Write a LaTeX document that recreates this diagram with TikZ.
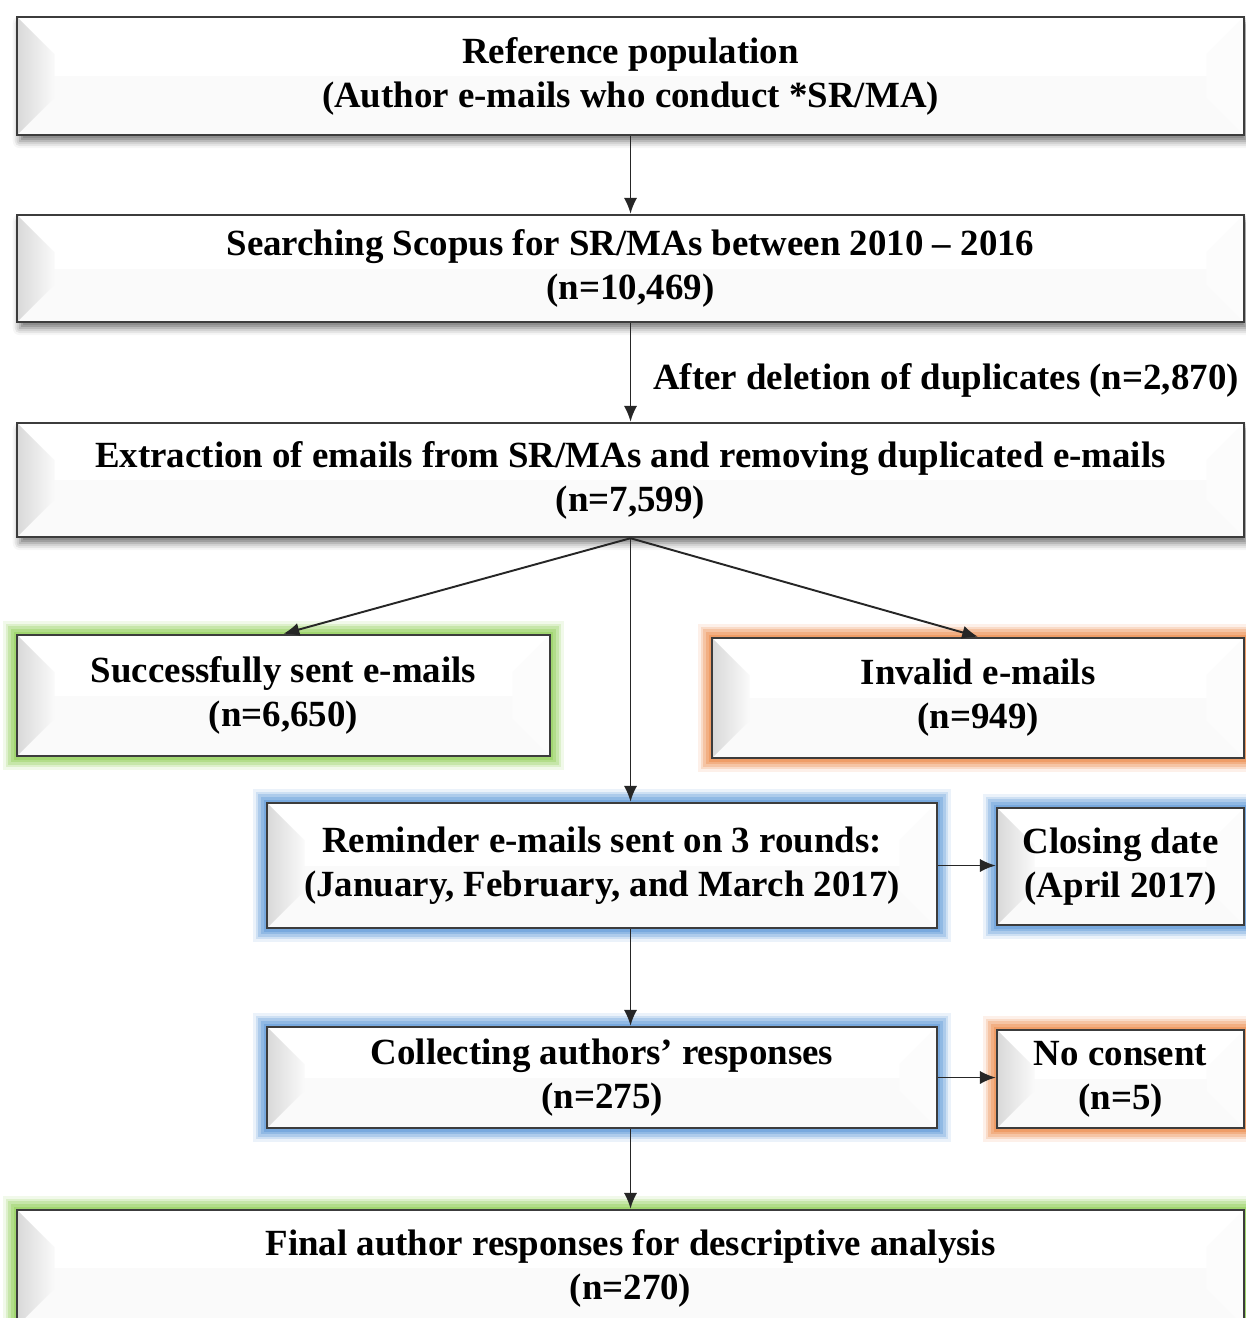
\documentclass[tikz,border=0pt]{standalone}
\usepackage{fontspec}
\setmainfont{Liberation Serif}
\usetikzlibrary{arrows.meta,calc,shadows.blur}

\definecolor{glowgreen}{RGB}{140,205,80}
\definecolor{gloworange}{RGB}{235,135,70}
\definecolor{glowblue}{RGB}{90,150,215}
\definecolor{boxline}{RGB}{60,60,60}

\begin{document}
\begin{tikzpicture}[x=0.02cm, y=-0.02cm,
    box/.style={rectangle, draw=boxline, line width=1.4pt, fill=white, align=center, inner sep=0pt,
        font=\fontsize{21}{25}\selectfont\bfseries,
        path picture={
            \fill[gray!4] (path picture bounding box.west) rectangle (path picture bounding box.south east);
            \shade[left color=gray!30, right color=gray!4]
                (path picture bounding box.north west) -- ++(0.75cm,-0.75cm)
                -- ($(path picture bounding box.south west)+(0.75cm,0.75cm)$)
                -- (path picture bounding box.south west) -- cycle;
            \fill[gray!2]
                (path picture bounding box.north east) -- ++(-0.75cm,-0.75cm)
                -- ($(path picture bounding box.south east)+(-0.75cm,0.75cm)$)
                -- (path picture bounding box.south east) -- cycle;
        }},
    plain/.style={box, blur shadow={shadow xshift=1.5pt, shadow yshift=-3.5pt, shadow blur radius=4pt, shadow opacity=55}},
    glow/.style={box,
        preaction={draw=#1, line width=16pt, draw opacity=0.12},
        preaction={draw=#1, line width=13pt, draw opacity=0.2},
        preaction={draw=#1, line width=10pt, draw opacity=0.28},
        preaction={draw=#1, line width=7pt, draw opacity=0.35},
        preaction={draw=#1, line width=4pt, draw opacity=0.45}},
    arr/.style={draw=black!85, line width=1.1pt, -{Latex[length=9pt,width=7.5pt]}}
]
\useasboundingbox (0,0) rectangle (1246,1318);
\clip (0,0) rectangle (1246,1318);

% Main boxes
\node[plain, minimum width=24.54cm, minimum height=2.36cm] (refpop) at (630.5,76)
    {Reference population\\(Author e-mails who conduct *SR/MA)};
\node[plain, minimum width=24.54cm, minimum height=2.14cm] (search) at (630.5,268.5)
    {Searching Scopus for SR/MAs between 2010 -- 2016\\(n=10,469)};
\node[plain, minimum width=24.54cm, minimum height=2.28cm] (extract) at (630.5,480)
    {Extraction of emails from SR/MAs and removing duplicated e-mails\\(n=7,599)};

% Split
\node[glow=glowgreen, minimum width=10.66cm, minimum height=2.42cm] (sent) at (283.5,695.5)
    {Successfully sent e-mails\\(n=6,650)};
\node[glow=gloworange, minimum width=10.64cm, minimum height=2.4cm] (invalid) at (978,698)
    {Invalid e-mails\\(n=949)};

% Follow-up
\node[glow=glowblue, minimum width=13.4cm, minimum height=2.5cm] (remind) at (602,865.5)
    {Reminder e-mails sent on 3 rounds:\\(January, February, and March 2017)};
\node[glow=glowblue, minimum width=4.94cm, minimum height=2.34cm] (closing) at (1120.5,866.5)
    {Closing date\\(April 2017)};
\node[glow=glowblue, minimum width=13.4cm, minimum height=2.02cm] (collect) at (602,1077.5)
    {Collecting authors' responses\\(n=275)};
\node[glow=gloworange, minimum width=4.94cm, minimum height=1.96cm] (noconsent) at (1120.5,1079)
    {No consent\\(n=5)};

% Result
\node[glow=glowgreen, minimum width=24.54cm, minimum height=2.32cm] (final) at (630.5,1268)
    {Final author responses for descriptive analysis\\(n=270)};

% Connections
\draw[arr] (refpop) -- (search);
\draw[arr] (search) -- node[right=9pt, pos=0.58, font=\fontsize{21}{25}\selectfont\bfseries]
    {After deletion of duplicates (n=2,870)} (extract);
\draw[arr] (extract.south) -- (sent.north);
\draw[arr] (extract.south) -- (invalid.north);
\draw[arr] (extract.south) -- (remind.north -| extract.south);
\draw[arr] (remind.east) -- (remind.east -| closing.west);
\draw[arr] (remind.south -| extract.south) -- (collect.north -| extract.south);
\draw[arr] (collect.east) -- (collect.east -| noconsent.west);
\draw[arr] (collect.south -| final.north) -- (final.north);

\end{tikzpicture}
\end{document}
